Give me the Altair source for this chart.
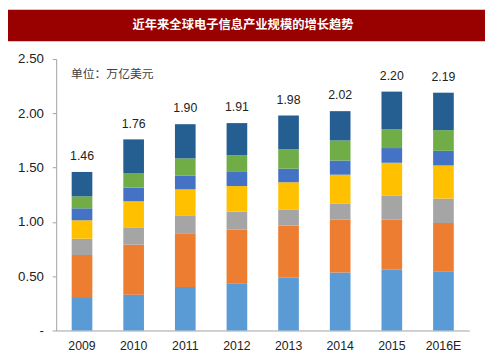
import altair as alt
import pandas as pd

years = ["2009", "2010", "2011", "2012", "2013", "2014", "2015", "2016E"]
series_names = ["系列1", "系列2", "系列3", "系列4", "系列5", "系列6", "系列7"]
s1 = [0.30, 0.33, 0.40, 0.435, 0.485, 0.535, 0.56, 0.545]
s2 = [0.395, 0.46, 0.49, 0.495, 0.48, 0.485, 0.46, 0.445]
s3 = [0.15, 0.16, 0.165, 0.165, 0.15, 0.15, 0.22, 0.225]
s4 = [0.17, 0.24, 0.245, 0.235, 0.25, 0.265, 0.305, 0.305]
s5 = [0.11, 0.125, 0.125, 0.13, 0.125, 0.13, 0.135, 0.135]
s6 = [0.11, 0.135, 0.16, 0.155, 0.18, 0.185, 0.175, 0.19]
s7 = [0.225, 0.31, 0.315, 0.295, 0.31, 0.27, 0.345, 0.345]
totals = [1.46, 1.76, 1.90, 1.91, 1.98, 2.02, 2.20, 2.19]
total_labels = ["1.46", "1.76", "1.90", "1.91", "1.98", "2.02", "2.20", "2.19"]
y_ticks = [0, 0.5, 1.0, 1.5, 2.0, 2.5]
colors = ["#5B9BD5", "#ED7D31", "#A5A5A5", "#FFC000", "#4472C4", "#70AD47", "#255E91"]
title_text = "近年来全球电子信息产业规模的增长趋势"
unit_text = "单位：万亿美元"

rows = []
for k, ser in enumerate([s1, s2, s3, s4, s5, s6, s7]):
    for yr, v in zip(years, ser):
        rows.append({"year": yr, "series": series_names[k], "order": k, "value": v})
df = pd.DataFrame(rows)
tot_df = pd.DataFrame({"year": years, "total": totals, "label": total_labels})

num_font = "Liberation Sans"
cjk_font = "Noto Sans CJK SC"

x_enc = alt.X("year:N", sort=years,
              scale=alt.Scale(paddingInner=0.6, paddingOuter=0.3),
              axis=alt.Axis(title=None, labelAngle=0, ticks=False, labelPadding=9,
                            labelFont=num_font, labelFontSize=12.5, labelColor="#222222",
                            domainColor="#A0A0A0", domainWidth=1))

bars = alt.Chart(df).mark_bar().encode(
    x=x_enc,
    y=alt.Y("value:Q", stack="zero",
            scale=alt.Scale(domain=[0, 2.5], nice=False),
            axis=alt.Axis(title=None, values=y_ticks, grid=False, tickSize=4,
                          tickColor="#A0A0A0", domainColor="#A0A0A0",
                          labelPadding=9, labelFont=num_font, labelFontSize=13.5,
                          labelColor="#222222",
                          labelExpr="datum.value == 0 ? '-\u00a0\u00a0\u00a0' : format(datum.value, '.2f')")),
    color=alt.Color("series:N", scale=alt.Scale(domain=series_names, range=colors), legend=None),
    order=alt.Order("order:Q", sort="ascending"),
)

labels = alt.Chart(tot_df).mark_text(baseline="middle", dy=-16, font=num_font,
                                     fontSize=12.5, color="#222222").encode(
    x=alt.X("year:N", sort=years),
    y=alt.Y("total:Q"),
    text="label:N",
)

one = pd.DataFrame({"t": [title_text], "u": [unit_text]})

banner = alt.Chart(one).mark_rect(color="#990000").encode(
    x=alt.value(-49), x2=alt.value(436), y=alt.value(-50), y2=alt.value(-18)
)
title = alt.Chart(one).mark_text(color="white", font=cjk_font, fontSize=12.5,
                                 fontWeight="bold", align="center", baseline="middle").encode(
    x=alt.value(190), y=alt.value(-35), text="t:N"
)
unit = alt.Chart(one).mark_text(color="#404040", font=cjk_font, fontSize=12,
                                align="left", baseline="middle").encode(
    x=alt.value(15), y=alt.value(15), text="u:N"
)

chart = alt.layer(bars, labels, banner, title, unit).properties(
    width=420, height=276,
    autosize=alt.AutoSizeParams(type="none"),
    padding={"left": 49, "top": 49, "right": 16, "bottom": 20},
    background="white",
).configure_view(stroke="transparent")

chart.save("out.html", embed_options={"renderer": "svg", "actions": False})
